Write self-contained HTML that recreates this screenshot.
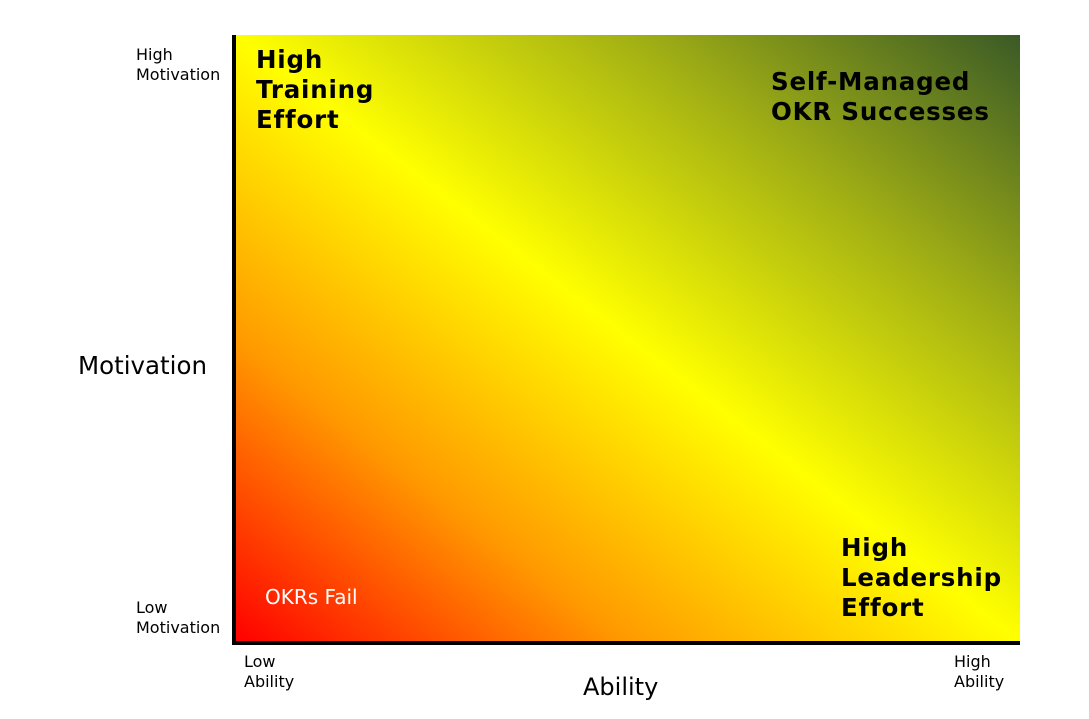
<!DOCTYPE html>
<html><head><meta charset="utf-8"><style>
body{margin:0;width:1089px;height:715px;background:#fff;overflow:hidden;font-family:"DejaVu Sans","Liberation Sans",sans-serif}
</style></head><body>
<svg width="1089" height="715">
<defs><linearGradient id="g" x1="0" y1="1" x2="1" y2="0">
<stop offset="0" stop-color="#ff0000"/>
<stop offset="0.25" stop-color="#ff9a00"/>
<stop offset="0.5" stop-color="#ffff00"/>
<stop offset="0.75" stop-color="#a2b014"/>
<stop offset="1" stop-color="#3a5a26"/>
</linearGradient></defs>
<rect x="236" y="35" width="784" height="606" fill="url(#g)"/>
<rect x="232" y="35" width="4" height="610" fill="#000"/>
<rect x="232" y="641" width="788" height="4" fill="#000"/>
<g font-size="16" fill="#000">
<text x="136" y="60">High<tspan x="136" dy="20">Motivation</tspan></text>
<text x="136" y="613">Low<tspan x="136" dy="20">Motivation</tspan></text>
<text x="244" y="667">Low<tspan x="244" dy="20">Ability</tspan></text>
<text x="954" y="667">High<tspan x="954" dy="20">Ability</tspan></text>
</g>
<text x="78" y="374" font-size="24.5">Motivation</text>
<text x="583" y="695" font-size="24">Ability</text>
<g font-size="24.5" font-weight="bold" fill="#000" letter-spacing="0.8">
<text x="256" y="68">High<tspan x="256" dy="30">Training</tspan><tspan x="256" dy="30">Effort</tspan></text>
<text x="771" y="90">Self-Managed<tspan x="771" dy="30">OKR Successes</tspan></text>
<text x="841" y="556">High<tspan x="841" dy="30">Leadership</tspan><tspan x="841" dy="30">Effort</tspan></text>
</g>
<text x="265" y="604" font-size="20" fill="#fff">OKRs Fail</text>
</svg>
</body></html>
